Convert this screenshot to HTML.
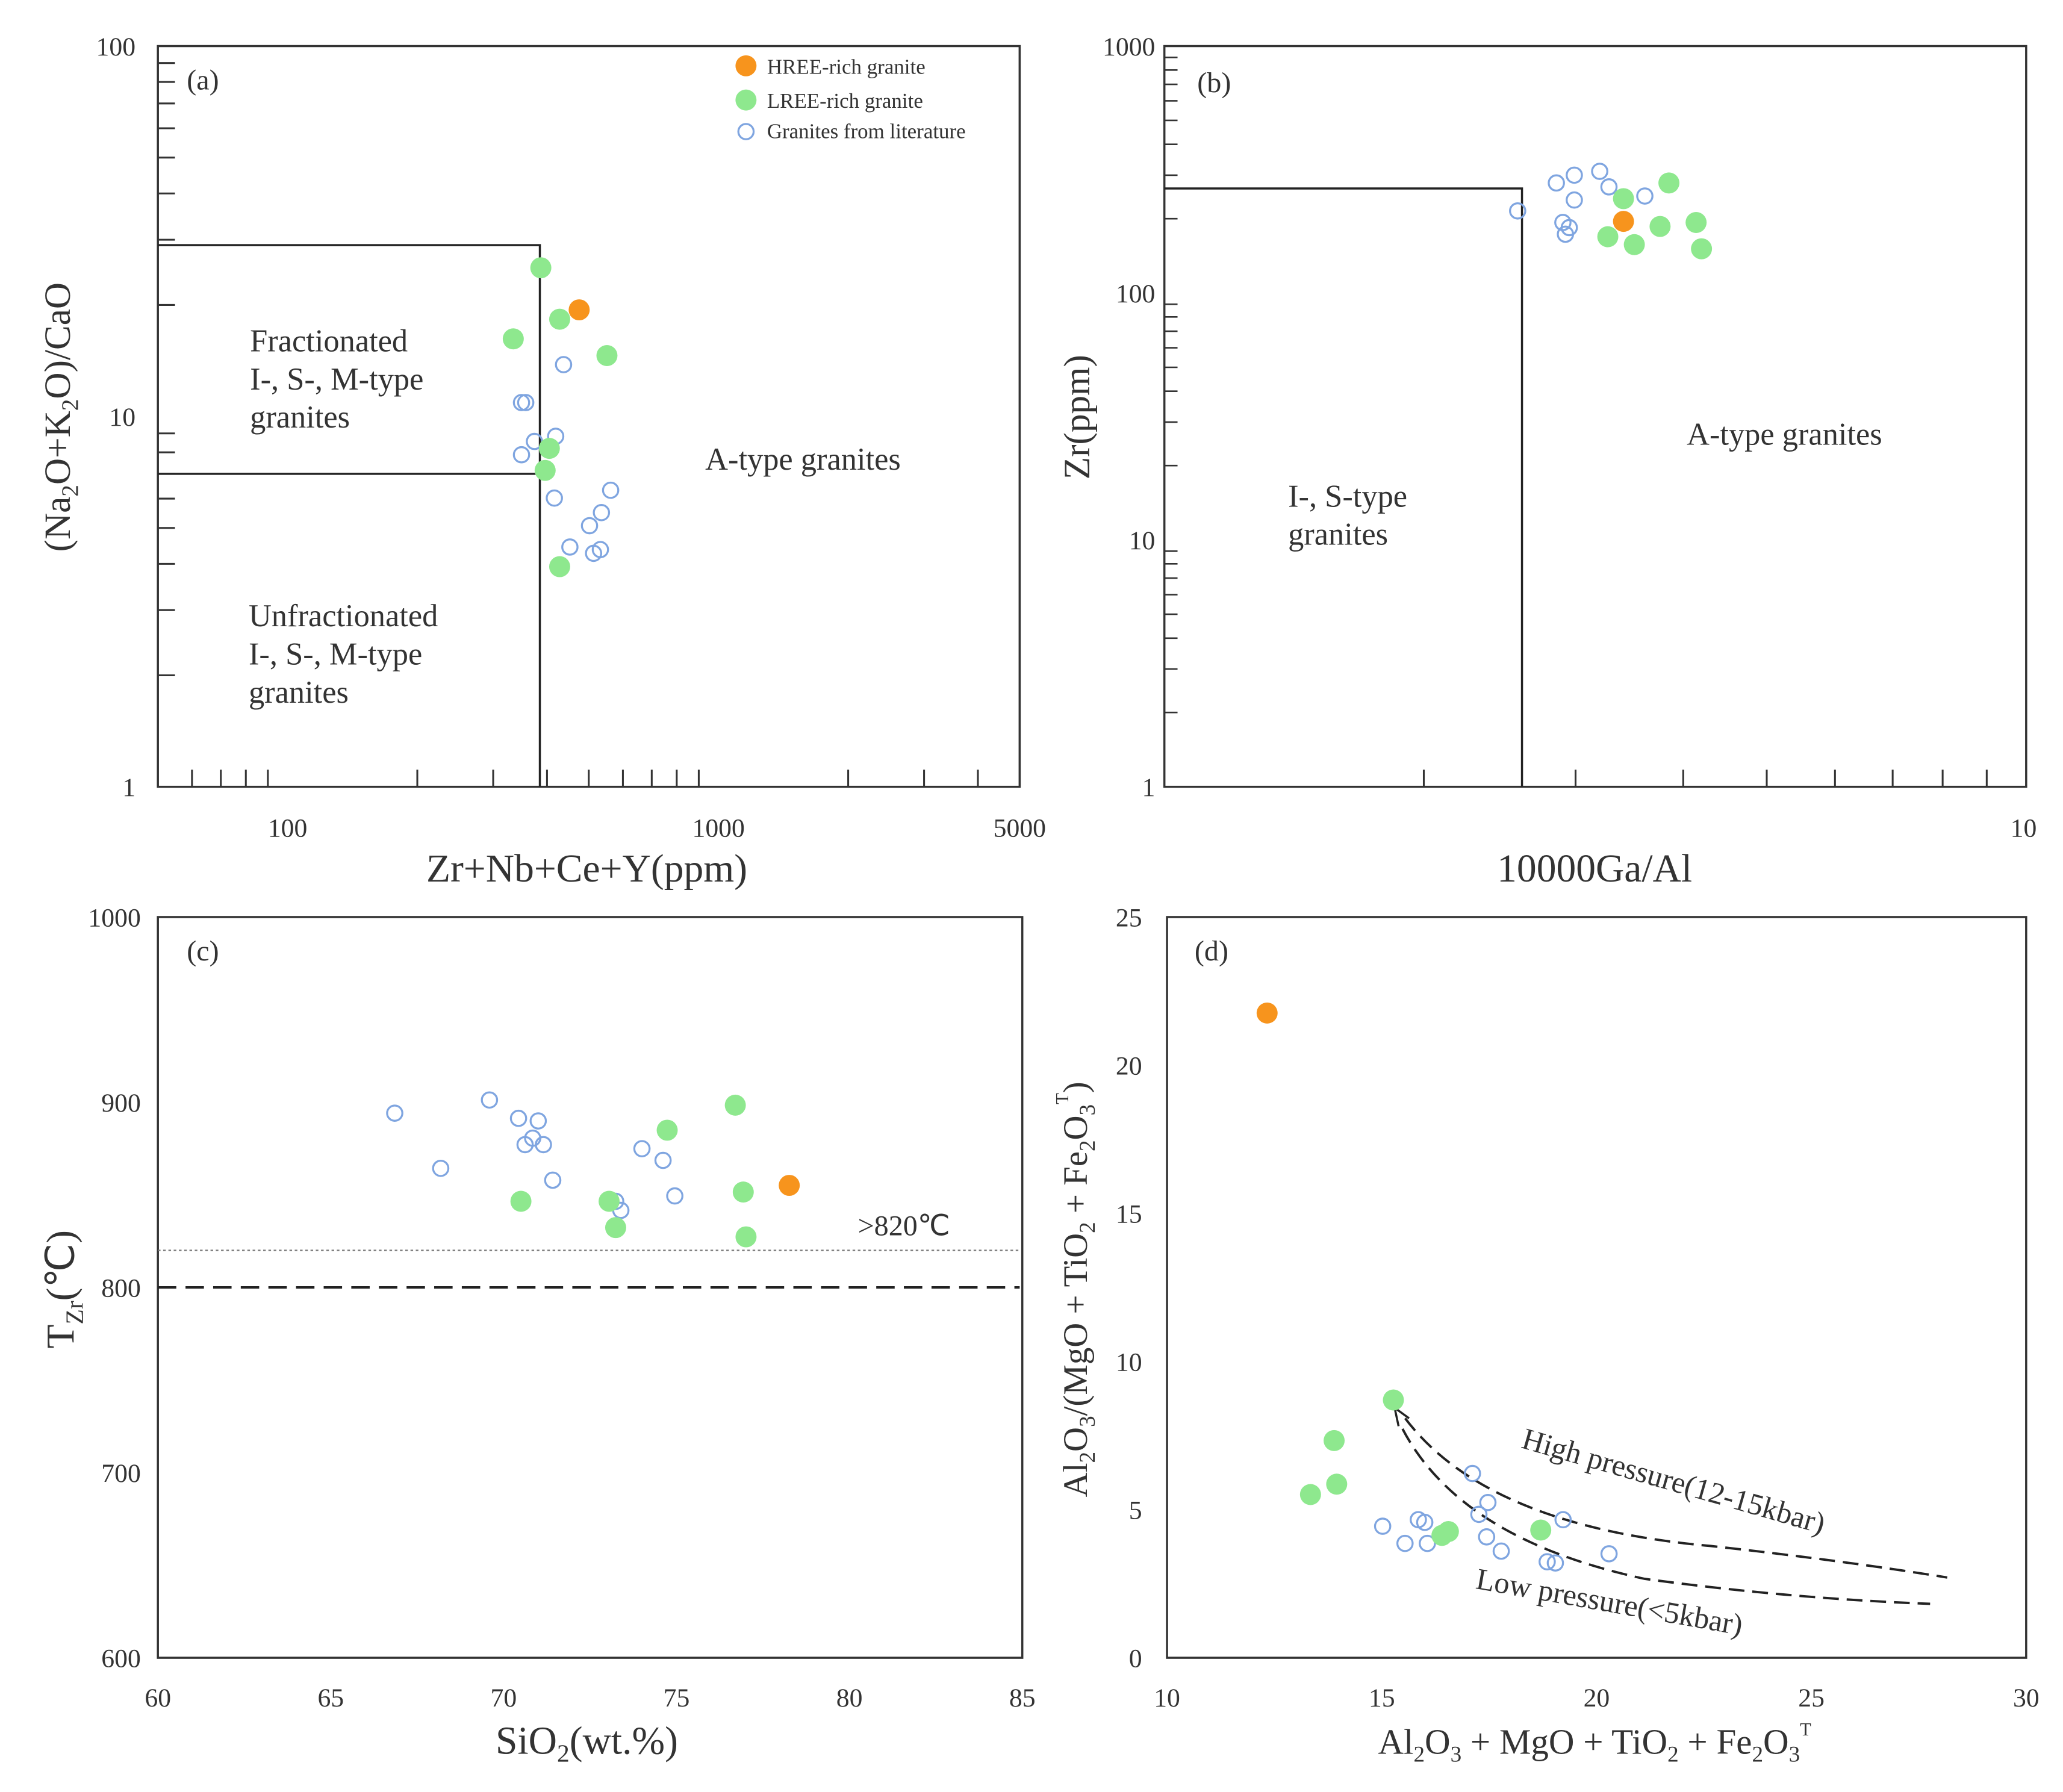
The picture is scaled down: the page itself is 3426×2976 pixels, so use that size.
<!DOCTYPE html>
<html><head><meta charset="utf-8"><style>
html,body{margin:0;padding:0;background:#fff}
svg{display:block}
text{font-family:"Liberation Serif",serif;fill:#333}
</style></head><body>
<svg id="fig" width="3426" height="2976" viewBox="0 0 1568 1362" xmlns="http://www.w3.org/2000/svg">
<rect x="0" y="0" width="1568" height="1362" fill="#fff"/>
</svg>
<script>
// ---- Panel (a) data ----
const aGreenX=[387,428,334,551,405,396,428];
const aGreenY=[25.2,18.3,16.2,14.6,8.2,7.15,3.93];
const aOrangeX=[475];
const aOrangeY=[19.4];
const aBlueX=[437,349,357,374,419,349,416,562,535,502,452,513,532];
const aBlueY=[13.8,10.9,10.9,8.56,8.84,7.88,6.02,6.32,5.50,5.07,4.44,4.27,4.37];
// ---- Panel (b) data ----
const bGreenX=[3.41,3.85,4.14,3.76,3.27,3.51,4.20];
const bGreenY=[241,279,193,186,169,157,151];
const bOrangeX=[3.41];
const bOrangeY=[195];
const bBlueX=[2.57,2.85,2.99,3.20,3.28,3.61,2.99,2.90,2.95,2.92];
const bBlueY=[215,279,300,311,269,247,238,193,184,173];
// ---- Panel (c) data ----
const cGreenX=[76.70,74.73,70.50,73.05,73.24,76.93,77.01];
const cGreenY=[898.4,884.9,846.5,846.5,832.3,851.5,827.3];
const cOrangeX=[78.26];
const cOrangeY=[855.1];
const cBlueX=[66.85,69.59,68.18,70.43,71.00,70.84,70.62,71.15,71.42,74.00,74.61,73.24,73.39,74.95];
const cBlueY=[894.1,901.2,864.3,891.3,889.9,880.6,877.1,877.1,857.9,874.9,868.6,846.5,841.6,849.4];
// ---- Panel (d) data ----
const dGreenX=[15.27,13.89,13.95,13.34,16.55,16.40,18.70];
const dGreenY=[8.70,7.33,5.86,5.51,4.26,4.13,4.31];
const dOrangeX=[12.33];
const dOrangeY=[21.76];
const dBlueX=[17.11,17.47,17.26,19.22,15.85,16.00,15.02,17.44,15.54,16.06,17.78,20.29,18.85,19.04];
const dBlueY=[6.22,5.24,4.84,4.66,4.66,4.57,4.44,4.08,3.86,3.86,3.60,3.51,3.24,3.20];
const cTicksX=[60,65,70,75,80,85];
const cTicksY=[600,700,800,900,1000];
const dTicksX=[10,15,20,25,30];
const dTicksY=[0,5,10,15,20,25];

const NS="http://www.w3.org/2000/svg";
const svg=document.getElementById('fig');
function el(tag,attrs,parent){const e=document.createElementNS(NS,tag);for(const k in attrs)e.setAttribute(k,attrs[k]);(parent||svg).appendChild(e);return e;}
function txt(s,x,y,size,anchor,parent,extra){const t=el('text',Object.assign({x:x,y:y,'font-size':size,'text-anchor':anchor||'start'},extra||{}),parent);t.textContent=s;return t;}
function logScale(d0,d1,p0,p1){return v=>p0+(Math.log10(v)-Math.log10(d0))/(Math.log10(d1)-Math.log10(d0))*(p1-p0);}
function linScale(d0,d1,p0,p1){return v=>p0+(v-d0)/(d1-d0)*(p1-p0);}
const C={orange:'#f7941d',green:'#8ee88e',blue:'#7fa5e0'};
function dots(g,xs,ys,sx,sy,kind,name){
  for(let i=0;i<xs.length;i++){
    const open=kind==='blue';
    const c=el('circle',{cx:sx(xs[i]),cy:sy(ys[i]),r:open?5.8:8,fill:open?'none':C[kind],stroke:open?C.blue:'none','stroke-width':1.5},g);
    
    
  }
}
function frame(g,x0,y0,x1,y1){el('rect',{x:x0,y:y0,width:x1-x0,height:y1-y0,fill:'none',stroke:'#333','stroke-width':1.6},g);}

// ===== Panel a =====
{
const g=el('g',{});


const sx=logScale(50,5000,120,775), sy=logScale(1,100,598,35);
frame(g,120,35,775,598);
[60,70,80,90,200,300,400,500,600,700,800,900,2000,3000,4000].forEach(v=>el('line',{x1:sx(v),x2:sx(v),y1:598,y2:585,stroke:'#333','stroke-width':1.4},g));
[2,3,4,5,6,7,8,9,20,30,40,50,60,70,80,90].forEach(v=>el('line',{x1:120,x2:133,y1:sy(v),y2:sy(v),stroke:'#333','stroke-width':1.4},g));
[['100',100],['1000',1000],['5000',5000]].forEach(([s,v])=>txt(s,sx(v),636,20,'middle',g));
[['100',100],['10',10],['1',1]].forEach(([s,v])=>txt(s,103,sy(v)+7,20,'end',g));
const bx=sx(385);
el('polyline',{points:`120,${sy(29)} ${bx},${sy(29)} ${bx},598`,fill:'none',stroke:'#222','stroke-width':1.6},g);
el('line',{x1:120,x2:bx,y1:sy(7),y2:sy(7),stroke:'#222','stroke-width':1.6},g);
txt('(a)',142,68,22,'start',g);
const lbl=[['Fractionated',190,267],['I-, S-, M-type',190,296],['granites',190,325],['Unfractionated',189,476],['I-, S-, M-type',189,505],['granites',189,534]];
lbl.forEach(([s,x,y])=>txt(s,x,y,24,'start',g));
txt('A-type granites',536,357,24,'start',g);
dots(g,aBlueX,aBlueY,sx,sy,'blue','literature-point');
dots(g,aGreenX,aGreenY,sx,sy,'green','lree-point');
dots(g,aOrangeX,aOrangeY,sx,sy,'orange','hree-point');
const lg=el('g',{},g);


el('circle',{cx:567,cy:50,r:8,fill:C.orange},lg);
el('circle',{cx:567,cy:76,r:8,fill:C.green},lg);
el('circle',{cx:567,cy:100,r:5.8,fill:'none',stroke:C.blue,'stroke-width':1.5},lg);
txt('HREE-rich granite',583,56,16,'start',lg);
txt('LREE-rich granite',583,82,16,'start',lg);
txt('Granites from literature',583,105,16,'start',lg);
txt('Zr+Nb+Ce+Y(ppm)',446,670,30,'middle',g);
const yt=txt('',0,0,28,'middle',g,{transform:'translate(53,317) rotate(-90)'});
yt.innerHTML='(Na<tspan font-size="18" dy="6">2</tspan><tspan dy="-6">O+K</tspan><tspan font-size="18" dy="6">2</tspan><tspan dy="-6">O)/CaO</tspan>';
}
// ===== Panel b =====
{
const g=el('g',{});


const sx=logScale(1,10,885,1540), sy=logScale(1,1000,598,35);
frame(g,885,35,1540,598);
[2,3,4,5,6,7,8,9].forEach(v=>el('line',{x1:sx(v),x2:sx(v),y1:598,y2:585,stroke:'#333','stroke-width':1.4},g));
[2,3,4,5,6,7,8,9,20,30,40,50,60,70,80,90,200,300,400,500,600,700,800,900].forEach(v=>el('line',{x1:885,x2:895,y1:sy(v),y2:sy(v),stroke:'#333','stroke-width':1.2},g));
[['1000',1000],['100',100],['10',10],['1',1]].forEach(([s,v])=>txt(s,878,sy(v)+7,20,'end',g));
txt('10',1538,636,20,'middle',g);
const bx=sx(2.6);
el('polyline',{points:`885,${sy(265)} ${bx},${sy(265)} ${bx},598`,fill:'none',stroke:'#222','stroke-width':1.6},g);
txt('(b)',910,70,22,'start',g);
txt('I-, S-type',979,385,24,'start',g);
txt('granites',979,414,24,'start',g);
txt('A-type granites',1282,338,24,'start',g);
dots(g,bBlueX,bBlueY,sx,sy,'blue','literature-point');
dots(g,bGreenX,bGreenY,sx,sy,'green','lree-point');
dots(g,bOrangeX,bOrangeY,sx,sy,'orange','hree-point');
txt('10000Ga/Al',1212,670,30,'middle',g);
txt('Zr(ppm)',0,0,28,'middle',g,{transform:'translate(828,317) rotate(-90)'});
}
// ===== Panel c =====
{
const g=el('g',{});


const sx=linScale(60,85,120,777), sy=linScale(600,1000,1260,697);
frame(g,120,697,777,1260);
cTicksX.forEach(v=>{txt(String(v),sx(v),1297,20,'middle',g);});
cTicksY.forEach(v=>{txt(String(v),107,sy(v)+7,20,'end',g);});
el('line',{x1:120,x2:775,y1:sy(820),y2:sy(820),stroke:'#777','stroke-width':1,'stroke-dasharray':'2,2'},g);
el('line',{x1:120,x2:775,y1:sy(800),y2:sy(800),stroke:'#222','stroke-width':1.8,'stroke-dasharray':'14,7'},g);
txt('>820℃',652,939,22,'start',g);
txt('(c)',142,730,22,'start',g);
dots(g,cBlueX,cBlueY,sx,sy,'blue','literature-point');
dots(g,cGreenX,cGreenY,sx,sy,'green','lree-point');
dots(g,cOrangeX,cOrangeY,sx,sy,'orange','hree-point');
const xt=txt('',446,1333,30,'middle',g);
xt.innerHTML='SiO<tspan font-size="19" dy="6">2</tspan><tspan dy="-6">(wt.%)</tspan>';
const yt=txt('',0,0,30,'middle',g,{transform:'translate(56,980) rotate(-90)'});
yt.innerHTML='T<tspan font-size="19" dy="7">Zr</tspan><tspan dy="-7">(℃)</tspan>';
}
// ===== Panel d =====
{
const g=el('g',{});


const sx=linScale(10,30,887,1540), sy=linScale(0,25,1260,697);
frame(g,887,697,1540,1260);
dTicksX.forEach(v=>{txt(String(v),sx(v),1297,20,'middle',g);});
dTicksY.forEach(v=>{txt(String(v),868,sy(v)+7,20,'end',g);});
txt('(d)',908,730,22,'start',g);
el('path',{d:'M1068,1078 Q1130,1160 1300,1175 Q1400,1186 1480,1199',fill:'none',stroke:'#222','stroke-width':1.8,'stroke-dasharray':'12,6'},g);
el('path',{d:'M1066,1086 Q1110,1170 1250,1200 Q1360,1215 1467,1219',fill:'none',stroke:'#222','stroke-width':1.8,'stroke-dasharray':'12,6'},g);
el('path',{d:'M1060,1070 l3,14 M1060,1070 l11,8',fill:'none',stroke:'#222','stroke-width':1.6},g);
txt('High pressure(12-15kbar)',0,0,23,'middle',g,{transform:'translate(1270,1133) rotate(16)'});
txt('Low pressure(<5kbar)',0,0,23,'middle',g,{transform:'translate(1222,1225) rotate(10)'});
dots(g,dBlueX,dBlueY,sx,sy,'blue','literature-point');
dots(g,dGreenX,dGreenY,sx,sy,'green','lree-point');
dots(g,dOrangeX,dOrangeY,sx,sy,'orange','hree-point');
const xt=txt('',1212,1333,27,'middle',g);
xt.innerHTML='Al<tspan font-size="17" dy="6">2</tspan><tspan dy="-6">O</tspan><tspan font-size="17" dy="6">3</tspan><tspan dy="-6"> + MgO + TiO</tspan><tspan font-size="17" dy="6">2</tspan><tspan dy="-6"> + Fe</tspan><tspan font-size="17" dy="6">2</tspan><tspan dy="-6">O</tspan><tspan font-size="17" dy="6">3</tspan><tspan font-size="14" dy="-20">T</tspan>';
const yt=txt('',0,0,26,'middle',g,{transform:'translate(826,980) rotate(-90)'});
yt.innerHTML='Al<tspan font-size="17" dy="6">2</tspan><tspan dy="-6">O</tspan><tspan font-size="17" dy="6">3</tspan><tspan dy="-6">/(MgO + TiO</tspan><tspan font-size="17" dy="6">2</tspan><tspan dy="-6"> + Fe</tspan><tspan font-size="17" dy="6">2</tspan><tspan dy="-6">O</tspan><tspan font-size="17" dy="6">3</tspan><tspan font-size="14" dy="-20">T</tspan><tspan dy="14">)</tspan>';
}
</script>
</body></html>
